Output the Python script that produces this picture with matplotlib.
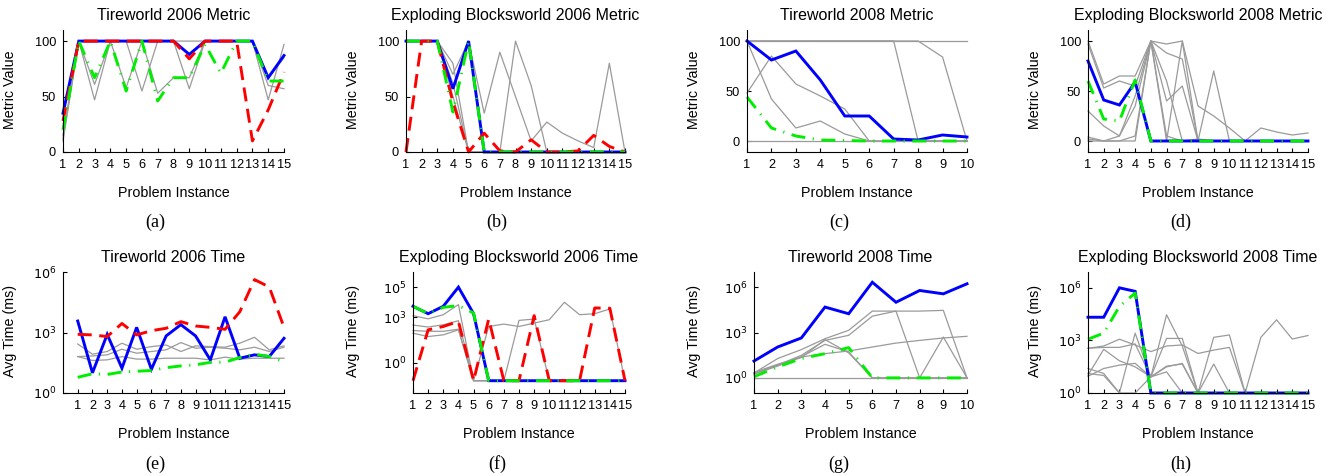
import numpy as np
import matplotlib
matplotlib.use('Agg')
import matplotlib.pyplot as plt

plt.rcParams['font.family'] = ['Liberation Sans', 'DejaVu Sans']

# ---- data ----
# (a) Tireworld 2006 Metric
a_x = list(range(1, 16))
a_blue = [35, 100, 100, 100, 100, 100, 100, 100, 88, 100, 100, 100, 100, 67, 87]
a_red = [28, 100, 100, 100, 100, 100, 100, 100, 84, 100, 100, 100, 10, 38, 72]
a_green = [20, 100, 67, 100, 55, 100, 46, 67, 67, 97, 71, 100, 100, 64, 64]
a_gray = [
    [10, 100, 47, 100, 100, 55, 100, 100, 57, 100, 100, 100, 100, 47, 97],
    [15, 100, 61, 100, 58, 100, 53, 67, 67, 100, 100, 100, 100, 60, 57],
    [12, 100, 100, 100, 100, 100, 100, 100, 100, 100, 100, 100, 100, 67, 85],
]

# (b) Exploding Blocksworld 2006 Metric
b_x = list(range(1, 16))
b_blue = [100, 100, 100, 57, 100, 0, 0, 0, 0, 0, 0, 0, 0, 0, 0]
b_red = [0, 100, 100, 45, 0, 17, 1, 0, 11, 0, 0, 1, 15, 5, 0]
b_green = [100, 100, 100, 36, 100, 0, 0, 0, 0, 0, 0, 0, 0, 0, 0]
b_gray = [
    [100, 100, 100, 80, 0, 0, 0, 100, 60, 0, 0, 0, 0, 0, 0],
    [100, 100, 100, 70, 100, 35, 90, 50, 10, 27, 17, 10, 4, 80, 0],
    [100, 100, 100, 50, 0, 0, 0, 0, 0, 0, 0, 0, 0, 0, 0],
    [100, 100, 100, 62, 0, 0, 0, 0, 0, 0, 0, 0, 0, 0, 0],
]

# (c) Tireworld 2008 Metric
c_x = list(range(1, 11))
c_blue = [100, 81, 90, 61, 25, 25, 2, 1, 6, 4]
c_green = [44, 13, 5, 1, 0.5, 0, 0, 0, 0, 0]
c_gray = [
    [100, 42, 13, 20, 7, 0, 0, 0, 0, 0],
    [48, 85, 57, 45, 32, 0, 0, 0, 0, 0],
    [100, 100, 100, 100, 100, 100, 100, 0, 0, 0],
    [100, 100, 100, 100, 100, 100, 100, 100, 84, 0],
    [100, 100, 100, 100, 100, 100, 100, 100, 100, 100],
    [0, 0, 0, 0, 0, 0, 0, 0, 0, 0],
]

# (d) Exploding Blocksworld 2008 Metric
d_x = list(range(1, 16))
d_blue = [80, 41, 36, 59, 0, 0, 0, 0, 0, 0, 0, 0, 0, 0, 0]
d_green = [60, 22, 20, 61, 0, 0, 0, 0, 0, 0, 0, 0, 0, 0, 0]
d_gray = [
    [100, 57, 65, 65, 100, 97, 100, 35, 25, 13, 0, 13, 9, 6, 8],
    [97, 53, 60, 55, 100, 88, 82, 0, 70, 0, 0, 0, 0, 0, 0],
    [30, 15, 5, 45, 100, 40, 55, 0, 0, 0, 0, 0, 0, 0, 0],
    [4, 0, 0, 5, 100, 5, 0, 0, 0, 0, 0, 0, 0, 0, 0],
    [0, 0, 0, 0, 100, 0, 100, 0, 0, 0, 0, 0, 0, 0, 0],
    [2, 0, 5, 35, 100, 60, 0, 2, 0, 0, 0, 0, 0, 0, 0],
]

# (e) Tireworld 2006 Time
e_x = list(range(1, 16))
e_blue = [3700, 10, 810, 17, 1800, 15, 675, 2450, 675, 44, 6000, 53, 78, 64, 515]
e_red = [810, 760, 630, 2800, 760, 1230, 1620, 3450, 2100, 1800, 1440, 10700, 420000, 180000, 1800]
e_green = [6, 9, 8.3, 11, 12, 13, 18, 22, 25, 33, 34, 57, 84, 64, 36]
e_gray = [
    [270, 84, 114, 295, 148, 200, 240, 114, 218, 200, 186, 295, 580, 138, 218],
    [64, 69, 78, 148, 94, 114, 138, 316, 166, 186, 166, 138, 186, 114, 186],
    [64, 41, 44, 64, 48, 48, 53, 53, 53, 44, 60, 48, 53, 53, 53],
]

# (f) Exploding Blocksworld 2006 Time
f_x = list(range(1, 16))
f_blue = [5400, 1750, 5400, 100000, 1750, 0.065, 0.065, 0.065, 0.065, 0.065, 0.065, 0.065, 0.065, 0.065, 0.065]
f_red = [0.065, 150, 250, 540, 0.065, 780, 0.065, 0.065, 1300, 0.065, 0.065, 0.065, 4200, 4000, 0.065]
f_green = [5400, 1750, 4600, 6000, 1950, 0.065, 0.065, 0.065, 0.065, 0.065, 0.065, 0.065, 0.065, 0.065, 0.065]
f_gray = [
    [1300, 800, 1500, 7000, 0.065, 250, 360, 250, 420, 700, 10000, 1500, 1750, 3600, 0.065],
    [310, 230, 325, 600, 0.065, 0.065, 0.065, 0.065, 0.065, 0.065, 0.065, 0.065, 0.065, 0.065, 0.065],
    [135, 120, 120, 165, 0.065, 0.065, 0.065, 0.065, 0.065, 0.065, 0.065, 0.065, 0.065, 0.065, 0.065],
    [90, 54, 70, 150, 0.065, 0.065, 0.065, 630, 780, 0.065, 0.065, 0.065, 0.065, 0.065, 0.065],
]

# (g) Tireworld 2008 Time
g_x = list(range(1, 11))
g_blue = [13, 110, 435, 48000, 17400, 2100000, 100000, 600000, 360000, 1660000]
g_green = [1.2, 5.3, 19, 40, 100, 1, 1, 1, 1, 1]
g_gray = [
    [1, 1, 1, 1, 1, 1, 1, 1, 1, 1],
    [2.1, 19, 74, 390, 1400, 26000, 26000, 26000, 29000, 1],
    [1.9, 7, 31, 300, 650, 12000, 26000, 1, 500, 1],
    [1.8, 6, 25, 166, 52, 1, 1, 1, 1, 1],
    [2.3, 8, 24, 40, 60, 110, 200, 300, 435, 560],
    [1.9, 7, 22, 340, 45, 1, 1, 1, 1, 1],
]

# (h) Exploding Blocksworld 2008 Time
h_x = list(range(1, 16))
h_blue = [21000, 21000, 1000000, 630000, 1, 1, 1, 1, 1, 1, 1, 1, 1, 1, 1]
h_green = [1170, 2600, 87000, 500000, 1, 1, 1, 1, 1, 1, 1, 1, 1, 1, 1]
h_gray = [
    [355, 480, 1170, 550, 230, 480, 550, 180, 280, 400, 1, 1500, 15000, 1200, 1900],
    [10.4, 310, 69, 31, 8.3, 1300, 1300, 1, 1500, 2050, 1, 1, 1, 1, 1],
    [355, 400, 400, 630, 8.3, 29000, 480, 1, 1, 1, 1, 1, 1, 1, 1],
    [25, 13, 1, 2600, 8.3, 31, 49, 1, 45, 1, 1, 1, 1, 1, 1],
    [9, 25, 39, 49, 8.3, 16, 1, 1, 1, 1, 1, 1, 1, 1, 1],
    [13, 10, 1, 1, 8.3, 34, 45, 1, 1, 1, 1, 1, 1, 1, 1],
]

W, H = 1337, 476
fig = plt.figure(figsize=(W / 100, H / 100), dpi=100)

GRAY = '#9a9a9a'
BLUE = '#0000ff'
RED = '#ff0000'
GREEN = '#00ee00'


def make_ax(left, right, top, bottom):
    return fig.add_axes([left / W, 1 - bottom / H, (right - left) / W, (bottom - top) / H])


def draw(ax, x, gray, blue, red=None, green=None):
    for g in gray:
        ax.plot(x, g, color=GRAY, lw=0.9, clip_on=False)
    ax.plot(x, blue, color=BLUE, lw=2.1, clip_on=False, solid_joinstyle='miter')
    if red is not None:
        ax.plot(x, red, color=RED, lw=2.1, dashes=(4.8, 2.6), clip_on=False)
    if green is not None:
        ax.plot(x, green, color=GREEN, lw=2.1, dashes=(4.8, 2.6, 0.4, 2.6), clip_on=False)


def style(ax, title, ylabel, xticks, ylx):
    ax.spines['top'].set_visible(False)
    ax.spines['right'].set_visible(False)
    ax.set_xticks(xticks)
    ax.tick_params(direction='in', length=3, labelsize=9.2, pad=5)
    ax.minorticks_off()
    ax.set_title(title, fontsize=11.5, pad=7)
    ax.set_xlabel('Problem Instance', fontsize=10.3)
    ax.set_ylabel(ylabel, fontsize=10.3)
    ax.xaxis.set_label_coords(0.5, -0.28)
    ax.yaxis.set_label_coords(ylx, 0.51)


# top row: metric value
ax = make_ax(63, 284, 30, 152)
draw(ax, a_x, a_gray, a_blue, a_red, a_green)
ax.set_xlim(1, 15)
ax.set_ylim(0, 110)
ax.set_yticks([0, 50, 100])
style(ax, 'Tireworld 2006 Metric', 'Metric Value', a_x, -0.21)

ax = make_ax(406, 625, 30, 152)
draw(ax, b_x, b_gray, b_blue, b_red, b_green)
ax.set_xlim(1, 15)
ax.set_ylim(0, 110)
ax.set_yticks([0, 50, 100])
style(ax, 'Exploding Blocksworld 2006 Metric', 'Metric Value', b_x, -0.21)

ax = make_ax(747, 967, 30, 152)
draw(ax, c_x, c_gray, c_blue, None, c_green)
ax.set_xlim(1, 10)
ax.set_ylim(-11, 111)
ax.set_yticks([0, 50, 100])
style(ax, 'Tireworld 2008 Metric', 'Metric Value', c_x, -0.21)

ax = make_ax(1088, 1308, 30, 152)
draw(ax, d_x, d_gray, d_blue, None, d_green)
ax.set_xlim(1, 15)
ax.set_ylim(-11, 111)
ax.set_yticks([0, 50, 100])
style(ax, 'Exploding Blocksworld 2008 Metric', 'Metric Value', d_x, -0.21)

# bottom row: time, log scale
ax = make_ax(63, 284, 272, 393)
draw(ax, e_x, e_gray, e_blue, e_red, e_green)
ax.set_yscale('log')
ax.set_xlim(0, 15)
ax.set_ylim(1, 1e6)
ax.set_yticks([1, 1e3, 1e6])
ax.set_yticklabels(['$10^0$', '$10^3$', '$10^6$'])
style(ax, 'Tireworld 2006 Time', 'Avg Time (ms)', e_x, -0.21)

ax = make_ax(413, 625, 272, 393)
draw(ax, f_x, f_gray, f_blue, f_red, f_green)
ax.set_yscale('log')
ax.set_xlim(1, 15)
ax.set_ylim(1e-2, 1e6)
ax.set_yticks([1, 1e3, 1e5])
ax.set_yticklabels(['$10^0$', '$10^3$', '$10^5$'])
style(ax, 'Exploding Blocksworld 2006 Time', 'Avg Time (ms)', f_x, -0.25)

ax = make_ax(754, 967, 272, 393)
draw(ax, g_x, g_gray, g_blue, None, g_green)
ax.set_yscale('log')
ax.set_xlim(1, 10)
ax.set_ylim(0.1, 1e7)
ax.set_yticks([1, 1e3, 1e6])
ax.set_yticklabels(['$10^0$', '$10^3$', '$10^6$'])
style(ax, 'Tireworld 2008 Time', 'Avg Time (ms)', g_x, -0.25)

ax = make_ax(1088, 1308, 272, 393)
draw(ax, h_x, h_gray, h_blue, None, h_green)
ax.set_yscale('log')
ax.set_xlim(1, 15)
ax.set_ylim(1, 8e6)
ax.set_yticks([1, 1e3, 1e6])
ax.set_yticklabels(['$10^0$', '$10^3$', '$10^6$'])
style(ax, 'Exploding Blocksworld 2008 Time', 'Avg Time (ms)', h_x, -0.21)

# sub-figure letters
letters = ['(a)', '(b)', '(c)', '(d)', '(e)', '(f)', '(g)', '(h)']
for i, lab in enumerate(letters):
    col = i % 4
    row = i // 4
    fig.text((155 + 342 * col) / W, 1 - (222 + 242 * row) / H, lab,
             ha='center', va='center', fontsize=13, family='Liberation Serif')

fig.savefig('out.png', dpi=100)
